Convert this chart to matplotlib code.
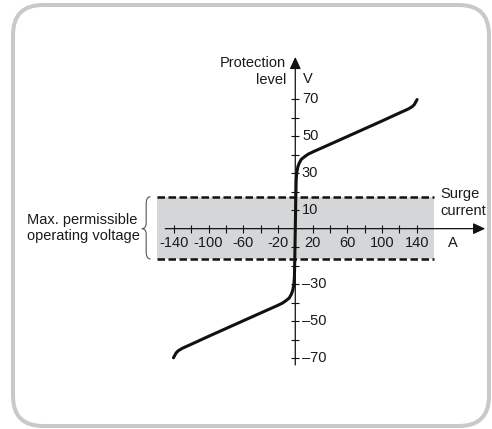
import matplotlib
matplotlib.use('Agg')
import matplotlib.pyplot as plt
from matplotlib.patches import FancyBboxPatch, Rectangle, PathPatch
from matplotlib.path import Path

plt.rcParams['font.family'] = ['Liberation Sans', 'DejaVu Sans']

# varistor characteristic (A, V)
current = [-140.5, -139, -137.5, -135, -130, -120, -100, -80, -60, -40, -20.8, -15,
           -11, -7, -4.6, -3, -1.6, -1.0, -0.6, 0.0, 0.6, 1.0, 1.6, 3, 4.6, 7, 11,
           15, 20.8, 40, 60, 80, 100, 120, 130, 135, 137.5, 139, 140.5]
voltage = [-69.8, -68.5, -67.2, -66.0, -64.6, -62.5, -58.2, -54.0, -49.8, -45.6, -41.6, -40.3,
           -39.0, -37.5, -35.5, -33.5, -30.0, -26.0, -17.0, 0.0, 17.0, 26.0, 30.0, 33.5, 35.5, 37.5, 39.0,
           40.3, 41.6, 45.6, 49.8, 54.0, 58.2, 62.5, 64.6, 66.0, 67.2, 68.5, 69.8]

x_ticks = [-140, -120, -100, -80, -60, -40, -20, 20, 40, 60, 80, 100, 120, 140]
x_labels = [-140, -100, -60, -20, 20, 60, 100, 140]
y_ticks = [-70, -60, -50, -40, -30, -20, -10, 10, 20, 30, 40, 50, 60, 70]
y_labels = [70, 50, 30, 10, -30, -50, -70]

band_low, band_high = -16.4, 17.3
band_left, band_right = -160, 160

fig = plt.figure(figsize=(4.92, 4.29), dpi=100)
ax = fig.add_axes([0, 0, 1, 1])
ax.set_xlim(-340.6, 226.9)
ax.set_ylim(-108.3, 123.6)
ax.axis('off')

# rounded frame
frame = FancyBboxPatch((0.13, 0.03), 4.76, 4.21, boxstyle='round,pad=0,rounding_size=0.3',
                       transform=fig.dpi_scale_trans, fc='none', ec='#c8c9c8', lw=2.9, zorder=0)
fig.patches.append(frame)

# permissible band
ax.add_patch(Rectangle((band_left, band_low), band_right - band_left, band_high - band_low,
                       fc='#d5d6d8', ec='none', zorder=1))
for yb in (band_low, band_high):
    ax.plot([band_left, band_right], [yb, yb], color='#111111', lw=1.8,
            dashes=(3.0, 1.4), zorder=3)

# axes with arrows
arr = dict(arrowstyle='-|>,head_length=0.6,head_width=0.28', mutation_scale=12,
           lw=0.9, color='#111111', shrinkA=0, shrinkB=0)
ax.annotate('', xy=(219, 0), xytext=(-150, 0), arrowprops=arr, zorder=2)
ax.annotate('', xy=(0, 92.8), xytext=(0, -73.7), arrowprops=arr, zorder=2)

ax.plot(x_ticks, [0] * len(x_ticks), ls='', marker='|', ms=6, mew=0.8, color='#111111', zorder=2)
ax.plot([0] * len(y_ticks), y_ticks, ls='', marker='_', ms=6, mew=0.8, color='#111111', zorder=2)

for xv in x_labels:
    ax.text(xv, -7.7, str(xv), ha='center', va='center', fontsize=10.5, color='#1a1a1a', zorder=4)
for yv in y_labels:
    ax.text(7.7, yv, str(yv).replace('-', '\u2013'), ha='left', va='center', fontsize=10.5,
            color='#1a1a1a', zorder=4)

# curve
ax.plot(current, voltage, color='#111111', lw=2.2, solid_capstyle='round', zorder=5)

# labels
ax.text(-10.7, 85, 'Protection\nlevel', ha='right', va='center', multialignment='right',
        fontsize=10.5, color='#1a1a1a', linespacing=1.25)
ax.text(8.9, 80.9, 'V', ha='left', va='center', fontsize=10.5, color='#1a1a1a')
ax.text(166.9, 14.2, 'Surge\ncurrent', ha='left', va='center', fontsize=10.5,
        color='#1a1a1a', linespacing=1.25)
ax.text(176, -7.7, 'A', ha='left', va='center', fontsize=10.5, color='#1a1a1a')
ax.text(-309.5, 0.4, 'Max. permissible\noperating voltage', ha='left', va='center',
        fontsize=10.5, color='#1a1a1a', linespacing=1.25)

# brace
xr, xm, xl = -167, -172, -177
verts = [(xr, band_high), (xm, band_high), (xm, band_high - 4), (xm, 3),
         (xm, 0), (xl, 0), (xm, 0), (xm, -3), (xm, band_low + 4),
         (xm, band_low), (xr, band_low)]
codes = [Path.MOVETO, Path.CURVE3, Path.CURVE3, Path.LINETO,
         Path.CURVE3, Path.CURVE3, Path.CURVE3, Path.CURVE3, Path.LINETO,
         Path.CURVE3, Path.CURVE3]
ax.add_patch(PathPatch(Path(verts, codes), fc='none', ec='#555555', lw=0.8))

fig.savefig('out.png', dpi=100)
